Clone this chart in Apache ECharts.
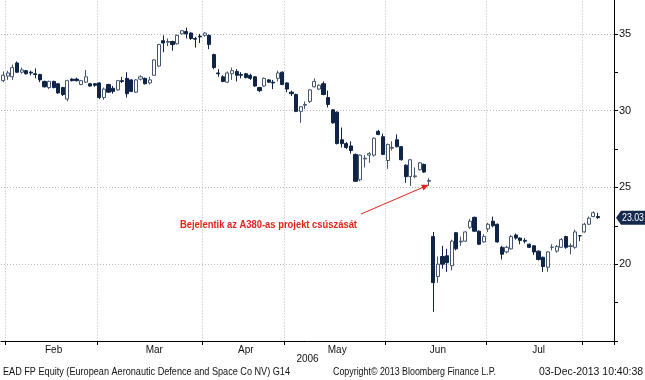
<!DOCTYPE html>
<html><head><meta charset="utf-8">
<script src="https://cdn.jsdelivr.net/npm/echarts/dist/echarts.min.js"></script>
<style>html,body{margin:0;padding:0;background:#fff}#c{width:645px;height:380px}</style>
</head><body><div id="c"></div>
<script>
// ---- data (EAD FP Equity, daily OHLC, 31-Jan-2006 .. 04-Aug-2006) ----
const opens = [
31.95,32.25,32.20,33.10,32.50,32.60,32.50,32.40,32.35,31.90,31.50,31.90,31.75,31.50,30.75,32.05,32.05,31.70,31.85,31.75,31.75,
31.80,30.85,31.70,31.45,31.35,31.95,32.10,32.00,31.20,32.05,32.10,31.80,32.30,32.90,34.55,34.45,34.50,34.35,35.00,35.15,35.05,34.70,34.85,
34.90,34.90,33.65,32.45,32.20,31.85,32.40,32.55,32.35,32.40,32.30,32.20,31.50,31.60,32.00,31.85,32.10,32.50,
31.80,31.20,31.05,29.95,30.35,30.60,31.55,31.40,31.75,30.85,30.05,29.90,28.10,27.85,27.70,27.15,25.50,26.85,27.10,27.10,28.65,28.30,
26.75,27.55,28.10,27.65,26.45,25.70,25.70,26.15,26.50,25.40,21.80,19.20,20.50,20.55,19.90,22.05,21.45,21.50,22.40,23.05,22.15,21.45,
22.30,22.80,22.60,21.10,20.80,21.00,21.90,21.70,21.55,21.30,21.20,20.85,20.45,19.80,21.10,20.85,21.10,21.80,21.15,21.10,21.85,
22.10,22.60,23.10,23.10];
const closes = [
32.30,32.45,32.80,32.50,32.65,32.40,32.45,32.35,32.00,31.55,31.90,31.50,31.15,31.05,31.95,31.95,31.95,31.95,32.20,31.60,31.65,
30.85,31.40,31.20,31.25,31.95,31.90,31.10,31.25,32.00,32.20,31.75,32.00,33.30,34.30,34.40,34.50,34.30,34.90,35.20,35.00,34.70,34.65,34.80,
35.05,34.30,32.80,32.40,31.90,32.45,32.60,32.30,32.30,32.15,32.10,31.60,31.30,32.10,31.85,31.80,32.45,31.70,
31.40,31.10,29.95,30.25,30.40,31.35,31.90,31.65,31.05,30.40,29.20,27.85,27.85,27.60,27.40,25.40,27.10,26.90,27.20,28.20,28.45,27.15,
27.80,27.60,27.65,26.80,25.70,26.80,25.75,26.60,26.00,25.45,18.80,20.00,20.00,20.10,21.50,21.00,21.50,22.10,22.80,22.15,21.30,21.80,
22.60,22.50,21.45,20.65,21.10,21.80,21.70,21.55,21.50,21.10,20.80,20.30,19.85,20.80,21.10,21.15,21.60,21.10,21.20,22.10,21.85,
22.60,23.00,23.35,23.03];
const lows = [
31.85,32.00,32.00,32.45,32.40,32.35,32.30,32.10,31.85,31.50,31.40,31.45,31.10,30.95,30.60,31.90,31.90,31.65,31.80,31.55,31.55,
30.75,30.70,31.15,31.10,31.30,31.80,30.85,31.20,31.15,31.95,31.70,31.70,32.25,32.85,33.80,34.20,33.90,34.30,34.95,34.70,34.60,34.10,34.40,
34.80,34.00,32.70,32.20,31.85,31.80,32.00,31.90,32.10,32.10,32.00,31.55,31.20,31.55,31.80,31.40,31.90,31.65,
31.20,30.95,29.90,29.20,30.10,30.50,31.50,31.35,31.00,30.20,29.15,27.80,27.60,27.50,27.20,25.35,25.40,26.30,26.60,27.00,28.40,27.10,
26.20,27.40,27.60,26.75,25.30,25.10,25.60,26.10,25.95,25.10,16.90,18.80,19.70,19.50,19.60,20.90,21.20,21.45,22.30,22.10,21.25,21.40,
22.10,22.40,21.40,20.30,20.70,20.95,21.60,21.30,21.35,21.05,20.60,20.25,19.50,19.50,20.90,20.75,21.05,21.00,20.65,21.00,21.50,
22.05,22.55,23.05,22.95];
const highs = [
32.55,32.60,33.00,33.20,32.80,32.65,32.60,32.75,32.40,31.95,31.95,31.95,31.80,31.55,32.00,32.10,32.15,32.00,32.65,31.80,31.80,
31.85,31.50,31.75,31.60,32.00,32.20,32.50,32.05,32.05,32.30,32.15,32.20,33.35,34.35,34.90,34.70,34.55,34.95,35.25,35.40,35.10,34.80,35.00,
35.10,34.95,33.70,32.70,32.30,32.55,32.80,32.70,32.50,32.45,32.40,32.25,31.55,32.15,32.05,32.00,32.60,32.55,
31.85,31.30,31.10,30.30,30.60,31.40,32.10,31.70,31.90,31.30,30.10,29.95,28.90,27.95,28.00,27.20,27.15,27.10,27.30,28.25,28.75,28.50,
27.85,28.00,28.45,27.70,26.50,26.85,26.30,26.65,26.55,25.60,22.10,20.50,21.20,21.00,21.60,22.10,21.80,22.15,22.95,23.10,22.20,21.95,
22.70,23.10,22.65,21.20,21.20,21.90,22.00,21.75,21.70,21.35,21.25,20.90,20.50,20.85,21.30,21.25,21.70,21.85,21.35,22.25,21.90,
22.70,23.10,23.45,23.35];

const firstDay = '2006-01-31';
const lastDay = '2006-08-09';
const holidays = ['2006-04-14', '2006-04-17', '2006-05-01'];
const monthNames = ['Jan','Feb','Mar','Apr','May','Jun','Jul','Aug','Sep','Oct','Nov','Dec'];
const yTickLabels = [20, 25, 30, 35];
const yearLabel = '2006';
const annotationText = 'Bejelentik az A380-as projekt csúszását';
const annotatedIndex = 93;
const footerLeft = 'EAD FP Equity (European Aeronautic Defence and Space Co NV) G14';
const footerMid = 'Copyright\u00A9 2013 Bloomberg Finance L.P.';
const footerRight = '03-Dec-2013 10:40:38';

// ---- trading-day categories ----
function tradingDays(a, b, skip) {
  const out = [];
  let t = Date.parse(a + 'T00:00:00Z');
  const end = Date.parse(b + 'T00:00:00Z');
  while (t <= end) {
    const d = new Date(t);
    const s = d.toISOString().slice(0, 10);
    const wd = d.getUTCDay();
    if (wd !== 0 && wd !== 6 && skip.indexOf(s) < 0) out.push(s);
    t += 86400000;
  }
  return out;
}
const categories = tradingDays(firstDay, lastDay, holidays);
const boundaries = [];
for (let i = 1; i < categories.length; i++) {
  if (categories[i].slice(5, 7) !== categories[i - 1].slice(5, 7)) boundaries.push(i);
}
const boundarySet = new Set(boundaries);
const labelAt = {};
for (let k = 0; k < boundaries.length - 1; k++) {
  const mid = Math.round((boundaries[k] + boundaries[k + 1]) / 2);
  labelAt[mid] = monthNames[parseInt(categories[boundaries[k]].slice(5, 7), 10) - 1];
}
const ohlc = opens.map((o, i) => [o, closes[i], lows[i], highs[i]]);

const FONT = "'Liberation Sans', Arial, sans-serif";
const measureCtx = document.createElement('canvas').getContext('2d');
function fitScale(text, font, width) {
  measureCtx.font = font;
  return width / measureCtx.measureText(text).width;
}

const dotted = { type: [1, 2], color: '#b9b9b9', width: 1 };
const chart = echarts.init(document.getElementById('c'), null, { renderer: 'canvas' });
chart.setOption({
  animation: false,
  backgroundColor: '#ffffff',
  grid: { left: 1, right: 31, top: -4.6, bottom: 39, containLabel: false, outerBoundsMode: 'none' },
  xAxis: {
    type: 'category', data: categories, boundaryGap: true,
    axisLine: { show: true, lineStyle: { color: '#000', width: 1 } },
    axisTick: { show: true, interval: (i) => boundarySet.has(i), length: 4, lineStyle: { color: '#000' } },
    axisLabel: { interval: 0, formatter: (v, i) => labelAt[i] || '', color: '#111', fontSize: 10, margin: 4, fontFamily: FONT },
    splitLine: { show: true, interval: (i) => boundarySet.has(i), lineStyle: dotted }
  },
  yAxis: [
    {
      type: 'value', position: 'right', min: 15, max: 37.5, interval: 5,
      axisLine: { show: true, lineStyle: { color: '#000', width: 1 } },
      axisTick: { show: true, length: 4, lineStyle: { color: '#000' } },
      axisLabel: { formatter: (v) => yTickLabels.indexOf(v) >= 0 ? String(v) : '', color: '#111', fontSize: 11, margin: 5, fontFamily: FONT },
      splitLine: { show: true, lineStyle: dotted }
    },
    {
      type: 'value', position: 'right', min: 15, max: 37.5, interval: 2.5,
      axisLine: { show: false }, axisTick: { show: true, length: 4, lineStyle: { color: '#000' } },
      axisLabel: { show: false }, splitLine: { show: false }
    }
  ],
  series: [{
    type: 'candlestick', data: ohlc, barWidth: 3.6, yAxisIndex: 0,
    itemStyle: { color: '#ffffff', color0: '#0f2447', borderColor: '#44566f', borderColor0: '#0f2447', borderWidth: 1 }
  }]
});

// ---- annotations computed from the axes ----
const xFirst = chart.convertToPixel({ xAxisIndex: 0 }, categories[0]);
const xLast = chart.convertToPixel({ xAxisIndex: 0 }, categories[categories.length - 1]);
const band = (xLast - xFirst) / (categories.length - 1);
const axisX = xLast + band / 2;
const lastClose = closes[closes.length - 1];
const tagY = chart.convertToPixel({ yAxisIndex: 0 }, lastClose);
const tipX = chart.convertToPixel({ xAxisIndex: 0 }, categories[annotatedIndex]);
const tipY = chart.convertToPixel({ yAxisIndex: 0 }, lows[annotatedIndex]) - 1;
const sx = 361, sy = 214;
const dx = tipX - sx, dy = tipY - sy, len = Math.hypot(dx, dy);
const ux = dx / len, uy = dy / len, px = -uy, py = ux;
const red = '#e0241b';
const leftAxisX = xFirst - band / 2;
const gridW = axisX - leftAxisX;

const annFont = 'bold 11px ' + FONT;
const tagFont = '11px ' + FONT;
const footFont = '11px ' + FONT;
const tagText = lastClose.toFixed(2);

function fitted(text, font, x, y, width, fill, z) {
  const s = fitScale(text, font, width);
  return { type: 'text', x: x, y: y, scaleX: s, z: z || 10,
    style: { text: text, fill: fill, font: font, textVerticalAlign: 'middle' } };
}

chart.setOption({
  graphic: [
    { type: 'polygon', shape: { points: [[axisX + 2, tagY], [axisX + 7, tagY - 7], [645, tagY - 7], [645, tagY + 7], [axisX + 7, tagY + 7]] },
      style: { fill: '#14294d' }, z: 100 },
    fitted(tagText, tagFont, axisX + 8, tagY, 22, '#ffffff', 101),
    fitted(annotationText, annFont, 180, 225, 177, red, 101),
    { type: 'line', shape: { x1: sx, y1: sy, x2: tipX - ux * 2, y2: tipY - uy * 2 }, style: { stroke: red, lineWidth: 1 }, z: 101 },
    { type: 'polygon', shape: { points: [[tipX, tipY], [tipX - ux * 7 + px * 3, tipY - uy * 7 + py * 3], [tipX - ux * 7 - px * 3, tipY - uy * 7 - py * 3]] }, style: { fill: red }, z: 101 },
    { type: 'text', x: leftAxisX + gridW / 2, y: 359, style: { text: yearLabel, fill: '#111', font: '10px ' + FONT, textAlign: 'center', textVerticalAlign: 'middle' } },
    fitted(footerLeft, footFont, 3, 372, 287, '#111'),
    fitted(footerMid, footFont, 333, 372, 163, '#111'),
    fitted(footerRight, footFont, 539, 372, 104, '#111')
  ]
});
</script>
</body></html>
